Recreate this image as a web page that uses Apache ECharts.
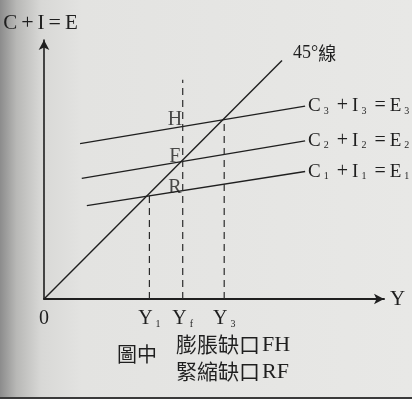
<!DOCTYPE html>
<html>
<head>
<meta charset="utf-8">
<script src="https://cdn.jsdelivr.net/npm/echarts@6/dist/echarts.min.js"></script>
<style>
  html, body { margin: 0; padding: 0; }
  #chart { width: 412px; height: 399px; }
</style>
</head>
<body>
<div id="chart"></div>
<script>
// income Y on x, spending C+I=E on y (same units on both axes so 45° looks 45°)
const line45 = [[0, 0], [70, 70]];
const spendLines = [
  { sub: '3', data: [[10.6, 45.6], [76.8, 56.6]] },
  { sub: '2', data: [[11.1, 35.4], [76.8, 46.4]] },
  { sub: '1', data: [[12.6, 27.4], [76.8, 37.4]] }
];
// dashed drop lines: [x, top y]
const dropLines = [[31, 30.8], [40.8, 64.3], [53, 53]];
const tickValues = [0, 31, 40.8, 53];
const tickNames = ['0', 'Y|1', 'Y|f', 'Y|3'];
const pointLabels = [
  { name: 'H', value: [38.5, 52.7] },
  { name: 'F', value: [38.5, 41.7] },
  { name: 'R', value: [38.5, 32.6] }
];

const serif = '"Liberation Serif", "DejaVu Serif", serif';
const cjk = '"Noto Sans CJK TC", "Noto Sans CJK SC", sans-serif';
const ink = '#1f1f1f';

const chart = echarts.init(document.getElementById('chart'));

const series = [];
series.push({
  type: 'line',
  data: line45,
  symbol: 'none',
  silent: true,
  lineStyle: { color: ink, width: 1.4 },
  endLabel: {
    show: true,
    formatter: '{a|45°}{b|線}',
    distance: 4,
    offset: [7, -7],
    rich: {
      a: { fontFamily: serif, fontSize: 18, color: ink },
      b: { fontFamily: cjk, fontSize: 18, color: ink }
    }
  }
});
spendLines.forEach(l => {
  series.push({
    type: 'line',
    data: l.data,
    symbol: 'none',
    silent: true,
    lineStyle: { color: ink, width: 1.4 },
    endLabel: {
      show: true,
      distance: 3,
      formatter: `{m|C}{s|${l.sub}}{o|+}{m|I}{s|${l.sub}}{o|=}{m|E}{s|${l.sub}}`,
      rich: {
        m: { fontFamily: serif, fontSize: 19, color: ink },
        s: { fontFamily: serif, fontSize: 10, color: ink, verticalAlign: 'bottom', padding: [0, 4, 0, 3] },
        o: { fontFamily: serif, fontSize: 20, color: ink, padding: [0, 4] }
      }
    }
  });
});
dropLines.forEach(d => {
  series.push({
    type: 'line',
    data: [[d[0], 0], [d[0], d[1]]],
    symbol: 'none',
    silent: true,
    lineStyle: { color: '#2a2a2a', width: 1.2, type: [7, 5] }
  });
});
series.push({
  type: 'scatter',
  data: pointLabels,
  symbolSize: 0,
  silent: true,
  label: {
    show: true,
    position: 'inside',
    formatter: '{b}',
    fontFamily: serif,
    fontSize: 20,
    color: ink
  }
});

chart.setOption({
  animation: false,
  backgroundColor: {
    type: 'linear', x: 0, y: 0, x2: 1, y2: 0,
    colorStops: [
      { offset: 0, color: '#8c8c8c' },
      { offset: 0.04, color: '#b8b8b6' },
      { offset: 0.1, color: '#d8d8d6' },
      { offset: 0.2, color: '#e3e3e1' },
      { offset: 1, color: '#e8e8e6' }
    ]
  },
  grid: { left: 44, right: 28, top: 40, bottom: 100 },
  xAxis: {
    type: 'value',
    min: 0,
    max: 100,
    name: 'Y',
    nameLocation: 'end',
    nameGap: 6,
    nameTextStyle: { fontFamily: serif, fontSize: 21, color: ink },
    splitLine: { show: false },
    axisTick: { show: false },
    axisLine: {
      lineStyle: { color: ink, width: 2 },
      symbol: ['none', 'arrow'],
      symbolSize: [8, 10]
    },
    axisLabel: {
      customValues: tickValues,
      margin: 10,
      formatter: v => {
        const i = tickValues.indexOf(v);
        const n = tickNames[i] || '';
        if (n.indexOf('|') < 0) return '{m|' + n + '}';
        const parts = n.split('|');
        return '{m|' + parts[0] + '}{s|' + parts[1] + '}';
      },
      rich: {
        m: { fontFamily: serif, fontSize: 20, color: ink },
        s: { fontFamily: serif, fontSize: 10, color: ink, verticalAlign: 'bottom', padding: [0, 0, 0, 3] }
      }
    }
  },
  yAxis: {
    type: 'value',
    min: 0,
    max: 76,
    name: '{a|C}{b|+}{a|I}{b|=}{a|E}',
    nameLocation: 'end',
    nameGap: 6,
    nameTextStyle: {
      padding: [0, 7, 0, 0],
      rich: {
        a: { fontFamily: serif, fontSize: 21, color: ink },
        b: { fontFamily: serif, fontSize: 22, color: ink, padding: [0, 4] }
      }
    },
    splitLine: { show: false },
    axisTick: { show: false },
    axisLabel: { show: false },
    axisLine: {
      lineStyle: { color: ink, width: 1.6 },
      symbol: ['none', 'arrow'],
      symbolSize: [8, 10]
    }
  },
  graphic: [
    { type: 'text', left: 117, top: 344, style: { text: '圖中', font: '20px ' + cjk, fill: ink } },
    { type: 'text', left: 176, top: 334, style: { text: '膨脹缺口', font: '21px ' + cjk, fill: ink } },
    { type: 'text', left: 262, top: 334, style: { text: 'FH', font: '22px ' + serif, fill: ink } },
    { type: 'text', left: 176, top: 361, style: { text: '緊縮缺口', font: '21px ' + cjk, fill: ink } },
    { type: 'text', left: 262, top: 361, style: { text: 'RF', font: '22px ' + serif, fill: ink } },
    { type: 'rect', left: 0, top: 397, shape: { width: 412, height: 2 }, style: { fill: '#3a3a3a' } }
  ],
  series: series
});
</script>
</body>
</html>
